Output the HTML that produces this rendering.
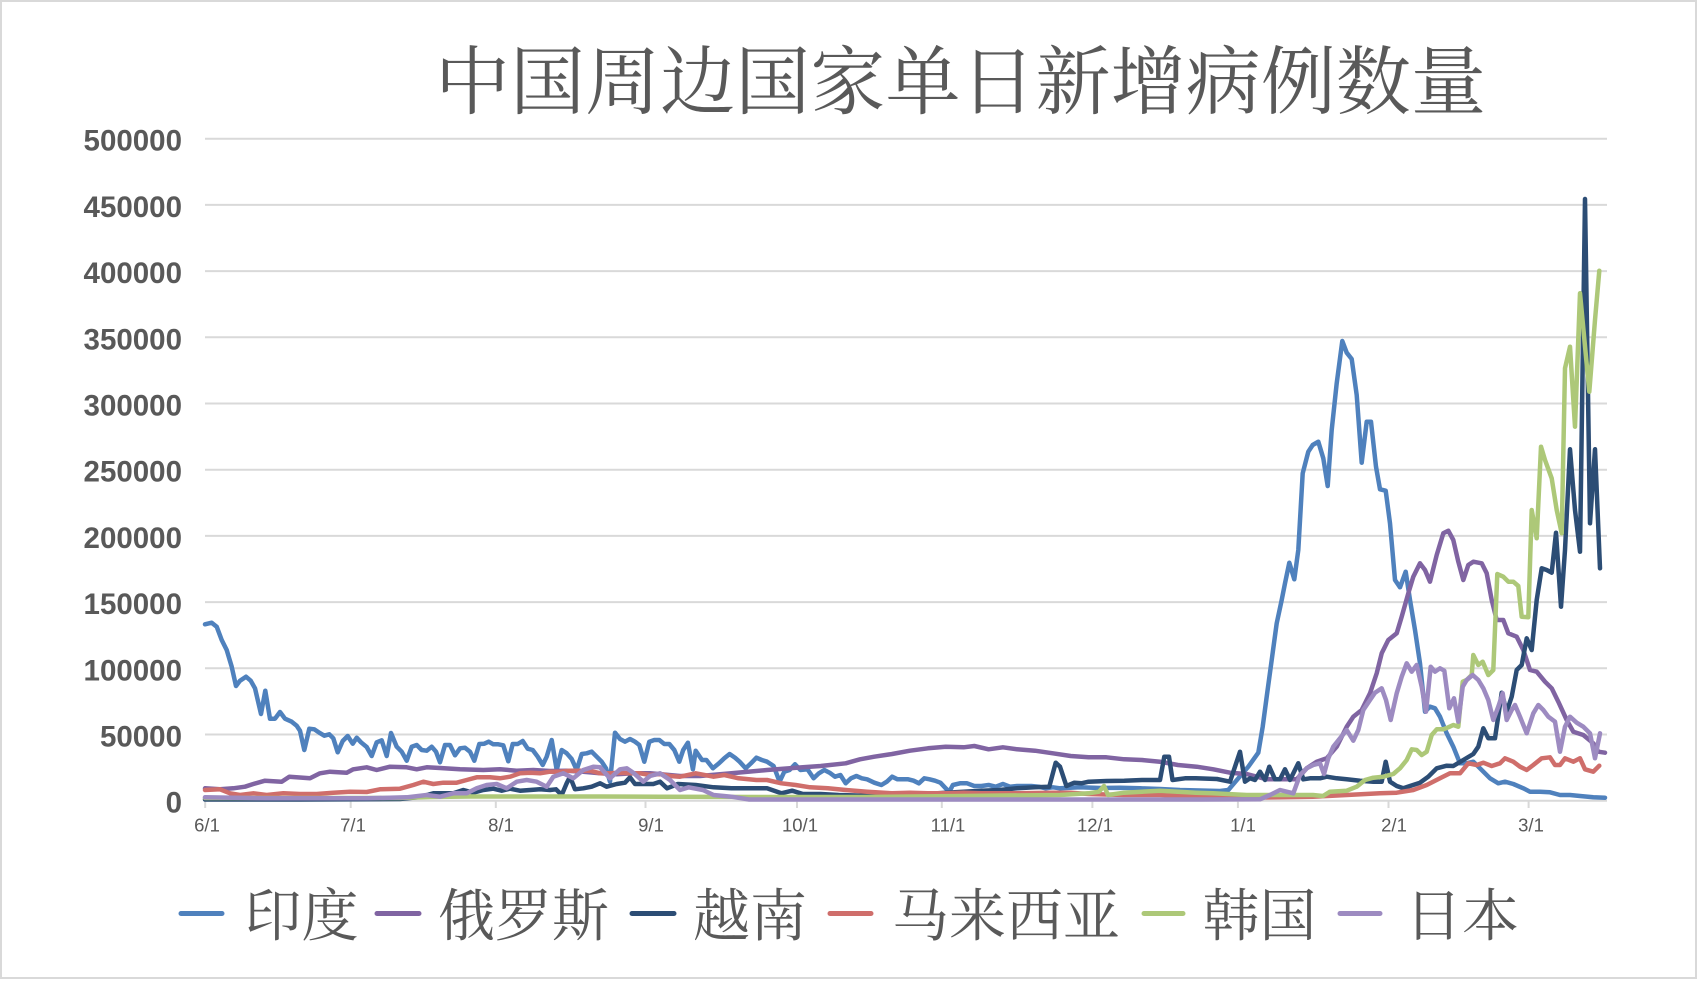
<!DOCTYPE html>
<html>
<head>
<meta charset="utf-8">
<style>
html,body{margin:0;padding:0;background:#fff;}
svg{display:block;}
.yl{font-family:"Liberation Sans",sans-serif;font-weight:bold;font-size:29.5px;fill:#595959;}
.xl{font-family:"Liberation Sans",sans-serif;font-size:18.5px;fill:#595959;}
.cjk{font-family:"Noto Serif CJK SC","Liberation Serif","Noto Sans CJK SC",serif;fill:#595959;}
.s{fill:none;stroke-width:4.5;stroke-linejoin:round;stroke-linecap:round;}
</style>
</head>
<body>
<svg width="1698" height="982" viewBox="0 0 1698 982" xmlns="http://www.w3.org/2000/svg">
<rect x="1" y="1" width="1695" height="977" fill="#fff" stroke="#d9d9d9" stroke-width="2"/>

<text class="cjk" x="435" y="108" font-size="75" textLength="1051" lengthAdjust="spacing">中国周边国家单日新增病例数量</text>

<g stroke="#d9d9d9" stroke-width="2">
<line x1="205" y1="138.7" x2="1607" y2="138.7"/>
<line x1="205" y1="204.9" x2="1607" y2="204.9"/>
<line x1="205" y1="271.1" x2="1607" y2="271.1"/>
<line x1="205" y1="337.3" x2="1607" y2="337.3"/>
<line x1="205" y1="403.5" x2="1607" y2="403.5"/>
<line x1="205" y1="469.7" x2="1607" y2="469.7"/>
<line x1="205" y1="535.9" x2="1607" y2="535.9"/>
<line x1="205" y1="602.1" x2="1607" y2="602.1"/>
<line x1="205" y1="668.3" x2="1607" y2="668.3"/>
<line x1="205" y1="734.5" x2="1607" y2="734.5"/>
<line x1="205" y1="800.7" x2="1607" y2="800.7"/>
<line x1="205.2" y1="800.7" x2="205.2" y2="808"/>
<line x1="350.7" y1="800.7" x2="350.7" y2="808"/>
<line x1="495.8" y1="800.7" x2="495.8" y2="808"/>
<line x1="645.5" y1="800.7" x2="645.5" y2="808"/>
<line x1="797" y1="800.7" x2="797" y2="808"/>
<line x1="941.8" y1="800.7" x2="941.8" y2="808"/>
<line x1="1092.4" y1="800.7" x2="1092.4" y2="808"/>
<line x1="1237.9" y1="800.7" x2="1237.9" y2="808"/>
<line x1="1388.5" y1="800.7" x2="1388.5" y2="808"/>
<line x1="1528.6" y1="800.7" x2="1528.6" y2="808"/>
</g>

<g class="yl" text-anchor="end">
<text x="182" y="150.7">500000</text>
<text x="182" y="216.9">450000</text>
<text x="182" y="283.1">400000</text>
<text x="182" y="349.3">350000</text>
<text x="182" y="415.5">300000</text>
<text x="182" y="481.7">250000</text>
<text x="182" y="547.9">200000</text>
<text x="182" y="614.1">150000</text>
<text x="182" y="680.3">100000</text>
<text x="182" y="746.5">50000</text>
<text x="182" y="812.7">0</text>
</g>

<g class="xl" text-anchor="middle">
<text x="207" y="831.5">6/1</text>
<text x="353" y="831.5">7/1</text>
<text x="501" y="831.5">8/1</text>
<text x="651" y="831.5">9/1</text>
<text x="800" y="831.5">10/1</text>
<text x="948" y="831.5">11/1</text>
<text x="1095" y="831.5">12/1</text>
<text x="1243" y="831.5">1/1</text>
<text x="1394" y="831.5">2/1</text>
<text x="1531" y="831.5">3/1</text>
</g>

<!-- India -->
<polyline class="s" stroke="#4f81bd" points="205,624.3 211.7,622.7 216.7,626.7 221.7,640 226.7,650 231.7,666.7 236,686 240,680.7 246,676.7 250.7,680.7 255,688.3 261,714 265.3,690.7 270,718.7 275,718.7 280,712 285,718.7 291.7,721.7 296.7,725.7 300,730.7 304.3,750 309.3,728.7 314.3,729.3 319.3,732.7 324.3,735.7 329.3,734.3 333.3,738.3 337.7,752.3 342.7,741 347.7,736 352.7,743.7 356.7,737.7 361,742.3 366.7,747 371.7,756 376.7,742.3 381.7,740.3 386.7,756 391,733 396.7,746.7 401.7,751.7 406.7,760.7 411.7,746.7 416.7,745 421.7,750 426.7,750.7 431.7,746.7 436,751.7 440,762.3 445,745 450,745 455,755.3 460,748.3 465,747.7 470,751.7 474.3,760.7 479.3,744 484.3,743.7 488.7,741.7 493.3,744.3 498.3,744.3 503.3,745.3 508.3,761.3 512.7,744 517.7,744 522.7,741 527.7,748.7 532.7,750 537.7,756.7 542.7,765 546.7,756.7 551.7,740 556.7,770 561.7,750 566.7,753.3 571.7,759 576.7,770 581.7,754 586.7,753.3 591.7,751.7 596.7,756.7 601.7,761.7 606,768.3 610,781.7 615,732.7 620,739 625,741.7 630,739 635,741.7 639.3,745 644.3,761.7 649.3,741.7 654.3,740 659.3,740 664.3,744 669.3,744 674.3,750 679.3,761.7 683.2,750 687.9,742.7 692.9,769.3 695.7,750.7 702,760 706.4,760 712.9,768.3 719,763.3 724.3,758.3 729.6,754 735,757.7 739.6,761.7 745.7,768.3 751,763.3 756.4,757.7 761.8,760 767.1,761.7 773.6,766 779.6,781.7 784.3,771.7 789.6,770 795,764.3 800.4,770 807.5,769.3 813.6,778.3 818.9,773.3 824.3,770 829.6,772.7 835,776.7 840.4,775 845.7,783.3 851,778.3 856.4,776 861.8,778.3 867.1,779.3 874.3,782.7 881.4,785 886.8,781.7 892.1,776.7 897.5,779.3 902.9,779.3 908.2,779.3 913.6,780.7 918.9,783.3 924.3,778.3 929.6,779.3 935,780.7 940.4,782.7 945.7,788.3 949.3,791.7 952.9,785 960,783.3 967.1,783.3 974.3,786 981.4,786 988.6,785 995.7,786.7 1002.9,784 1010,786.7 1017,786 1024,786 1031.4,786 1038.6,786.7 1045.7,788.3 1052.9,787.3 1060,788.3 1080,787.3 1100,788 1120,787.7 1140,788.3 1160,789 1180,790 1200,790.5 1220,791 1228.3,790 1238.3,778.3 1248.3,766.7 1258.3,752.7 1262.7,726.7 1266.7,696.7 1271.7,660 1276.7,623.3 1281.7,600 1285,583.3 1289.3,562.7 1294.3,579.3 1298.3,550 1302.7,473.3 1308.3,451.7 1312.7,445 1318.3,441.7 1323.3,458.3 1327.7,486 1331.7,430 1336.7,383.3 1342.3,341 1346.7,352.7 1351.7,359 1356.7,395 1361.7,462.7 1366.7,421.7 1371,421.7 1376,466.7 1380,489.3 1385.7,490.7 1390,523.3 1395,580 1400,587.3 1405.7,571.7 1410,600 1415,630 1420,663.3 1425,711.7 1430,706.7 1435,708.3 1440,716.7 1446.7,733.3 1453.3,746.7 1460,763.3 1466.7,763.3 1473.3,761.7 1480,768.3 1490,778.3 1498.3,783.3 1505,781.7 1513.3,784 1523.3,788.3 1530,791.7 1540,791.7 1550,792.3 1560,795 1570,795 1580,796 1593.3,797.3 1605,797.7"/>

<!-- Russia -->
<polyline class="s" stroke="#8064a2" points="205,788.3 220,789.3 233.3,788.3 245,786.7 253.3,784 265,780.7 281.7,781.7 289.3,776.7 310,778.3 320,773.3 330,771.7 346.7,772.7 353.3,769.3 366.7,767.3 376.7,770 390,766.7 406.7,767.3 416.7,769.3 426.7,767.3 440,768 460,769.3 483.3,770 500,769.3 516.7,770.7 533.3,770 550,771 566.7,770.7 583.3,771.7 600,773.3 616.7,774.3 633.3,773.3 650,773.3 680,776 700,776 731.4,773.3 767,770 802.9,767.3 820.7,766 845.7,763.3 860,759.3 874.3,756.7 892.1,754 910,750.7 927.9,748.3 945.7,746.7 963.6,747.3 974.3,746 988.6,749.3 1002.9,747.3 1017,749.3 1035,750.7 1052.9,753.3 1070.7,756 1088.6,757.3 1106.4,757.3 1124.3,759.3 1142,760 1160,761.7 1177.9,765 1196.7,766.7 1213.3,769.3 1230,772.7 1246.7,774 1266.7,779.3 1280,779.3 1296.7,779.3 1306.7,768.3 1316.7,761.7 1326.7,758.3 1336.7,746.7 1346.7,726.7 1353.3,716.7 1361.7,710 1370,693.3 1376.7,673.3 1381.7,653.3 1388.3,640 1396.7,633.3 1401.7,616.7 1408.3,593.3 1413.3,576.7 1420,563.3 1425,570 1430,581.7 1436.7,555 1443.3,533.3 1448.3,530.7 1453.3,540 1458.3,561.7 1463.3,580 1468.3,565 1473.3,561.7 1481.7,563.3 1486.7,573.3 1491.7,600 1496.7,620 1503.3,620 1508.3,633.3 1516.7,636.7 1523.3,650 1530,670 1536.7,671.7 1545,681.7 1551.7,688.3 1558.3,701.7 1566.7,720 1573.3,731.7 1583.3,735 1593.3,743.3 1598.3,751.7 1605,752.7"/>

<!-- Vietnam -->
<polyline class="s" stroke="#2c4d75" points="205,799.5 300,799.5 400,799 420,797 433.3,793.3 453.3,793.3 463.3,790 473.3,792.7 483.3,790 493.3,788.7 501.7,790.7 510,788.7 520,790.7 530,790 540,789.3 550,790 556,789.3 561.7,795 566.7,783.3 570,776.7 575,789.3 583.3,788.3 591.7,786.7 600,783.3 606.7,786.7 616.7,784 625,782.7 630,777.3 635,784 643.3,784 653.3,784 660,781.7 667.1,788.3 677.9,784 695.7,785 713.6,787.3 731.4,788.3 749.3,788.3 767,788.3 781.4,793.3 792.1,790.7 802.9,794 820.7,794 838.6,795 874.3,796 910,795 945.7,792.7 963.6,791.7 981.4,790.7 999.3,790 1017,788.3 1035,787.3 1049.3,786.7 1055.7,762.7 1060,766.7 1066.4,786 1074.3,782.7 1081.4,783.3 1088.6,781.7 1106.4,781 1124.3,780.7 1142,780 1160,780 1164.3,756.7 1169,756.7 1172.5,780 1185,778.3 1195.7,778.3 1217,779 1230,781.7 1240,751.7 1245,781.7 1250,778.3 1255,780 1260,771.7 1265,780 1269.3,766.7 1275,779.3 1280,779.3 1285,769.3 1290,780 1298.3,763.3 1303.3,779.3 1310,778.3 1320,778.3 1326.7,776.7 1336.7,778.3 1346.7,779.3 1360,780.7 1373.3,781.7 1381.7,781.7 1385.7,761.7 1390,781.7 1396.7,786 1403.3,788.3 1410,786 1420,782.7 1428.3,776.7 1436.7,768.3 1446.7,765.7 1453.3,766 1463.3,760 1473.3,754 1478.3,746.7 1483.3,728.3 1488.3,738.3 1495,738.3 1501.7,692.7 1506.7,711.7 1511.7,696.7 1516.7,670 1521.7,665 1526.7,638.3 1531.7,650 1536.7,600 1541.7,568.3 1546.7,570 1551.7,572.7 1556,532.7 1561,606.7 1565,550 1570,449.3 1575,510 1580,551.7 1585,199 1590,523.3 1595,449.3 1600,568.3"/>

<!-- Malaysia -->
<polyline class="s" stroke="#cf6e6b" points="205,790 220,789.3 230,793.3 240,795 253.3,793.3 266.7,795 283.3,793.3 300,794 316.7,794 333.3,792.7 350,791.7 366.7,792 380,789.3 400,788.7 413.3,785 423.3,781.7 433.3,784 443.3,782.7 456.7,782.7 466.7,780 476.7,777.3 490,777.3 500,778.3 510,776.7 520,773.3 530,772.7 540,773.3 550,771.7 560,771.7 570,770.7 580,770.7 590,770.7 600,773.3 610,773.3 620,772.7 630,773.3 640,773.3 650,775 660,774 670,776 680,776.7 695.7,773.3 713.6,776.7 724.3,775 738.6,778.3 756.4,780 767,780 781.4,783.3 795.7,785 810,787.3 827.9,788.3 845.7,790 867.1,791.7 892,793.3 910,792.7 927.9,793.3 945.7,793.3 963.6,792.7 981.4,793.3 1017,793.3 1052.9,792.7 1070.7,792.7 1088.6,794 1124,795 1160,795 1195.7,796.7 1217,796.7 1246.7,797.7 1313,796.7 1346.7,795 1380,793.3 1396.7,792.7 1413.3,790 1426.7,785 1440,778.3 1450,773.3 1460,773.3 1468.3,763.3 1476.7,765 1483.3,762.7 1491.7,766 1500,763.3 1505,758.3 1513.3,761.7 1520,766.7 1526.7,770 1533.3,765 1541.7,758.3 1550,757.3 1555,765 1560,765 1565,758.3 1573.3,761.7 1580,758.3 1585,769.3 1593.3,771.7 1599.3,765.7"/>

<!-- Korea -->
<polyline class="s" stroke="#adc878" points="205,798 400,798 430,797 470,796.5 500,796.5 600,796.5 660,796.7 760,797 860,797 960,796 1060,795 1088.6,793.3 1099,791.7 1104,786 1108,795 1124,792.7 1142,791.7 1160,790.7 1178,791.7 1196,792.7 1213,793.3 1246.7,795 1280,795 1313,795 1323,796 1330,791.7 1346.7,790.7 1356.7,786.7 1365,780 1373.3,777.7 1383.3,776.7 1393.3,774 1400,768.3 1406.7,760 1411.7,749.3 1416.7,750 1421.7,755 1426.7,751.7 1431.7,735 1436.7,729.3 1443.3,729.3 1448.3,727.3 1453.3,725 1458.3,726.7 1462.7,681.7 1466.7,680 1471.7,675 1473.3,655 1478.3,665 1482.7,661.7 1488.3,675 1493.3,670 1497.3,574 1503.3,576.7 1508.3,581.7 1513.3,581.7 1518.3,586 1521.7,616.7 1528.3,617.3 1531.7,510 1536.7,538.3 1541,446.7 1545,460 1551.7,478.3 1556.7,510 1561.7,533.3 1565,368.3 1570,346.7 1575,426.7 1580,293.3 1589.3,391.7 1595,320 1599.3,270.7"/>

<!-- Japan -->
<polyline class="s" stroke="#9d8bc1" points="205,797.3 266.7,798.3 366.7,798.3 406.7,797.3 426.7,795 440,796.7 453.3,793.3 466.7,793.3 476.7,788.3 486.7,785 496.7,784 506.7,788.3 516.7,781.7 526.7,780 536.7,781.7 546.7,786.7 553.3,776.7 563.3,773.3 573.3,778.3 583.3,770 593.3,766.7 600,767.3 610,778.3 620,769.3 626.7,768.3 633.3,772.7 643.3,781.7 650,776 660,773.3 670,780 680,790 688.6,787.3 702.9,790 713.6,795 731.4,796.7 749.3,799.5 800,799.5 1000,799.5 1200,799.5 1260,799.3 1270,795 1280,790 1286.7,791.7 1293.3,793.3 1300,775 1306.7,768.3 1313.3,765 1320,763.3 1324,774 1328.3,758.3 1333.3,746.7 1340,738.3 1346.7,730 1353.3,740.7 1358.3,730 1363.3,710 1370,700 1375,692.7 1381.7,688.3 1386,700 1390.7,720 1396.7,693.3 1401.7,676.7 1406.7,663.3 1411.7,671.7 1416.7,665 1421.7,686.7 1426,711.7 1430.7,666.7 1435,671.7 1440,668.3 1444.3,670.7 1449.3,708.3 1454,698.3 1458.3,721.7 1462.7,686.7 1466.7,680 1472.7,675 1478.3,680 1483.3,688.3 1488.3,700 1493.3,720 1498.3,706.7 1502.7,693.3 1506.7,720 1511.7,710 1515,705 1520,716.7 1526.7,733.3 1533.3,713.3 1538.3,705 1543.3,710 1548.3,716.7 1555,721.7 1560,751.7 1565,726.7 1570,716.7 1576.7,722.7 1583.3,726.7 1590,733.3 1595,758.3 1600,733.3"/>

<!-- Legend -->
<g stroke-width="5" stroke-linecap="round">
<line x1="181" y1="913.5" x2="222" y2="913.5" stroke="#4f81bd"/>
<line x1="377" y1="913.5" x2="419" y2="913.5" stroke="#8064a2"/>
<line x1="632" y1="913.5" x2="674" y2="913.5" stroke="#2c4d75"/>
<line x1="830" y1="913.5" x2="871" y2="913.5" stroke="#cf6e6b"/>
<line x1="1144" y1="913.5" x2="1183" y2="913.5" stroke="#adc878"/>
<line x1="1340" y1="913.5" x2="1380" y2="913.5" stroke="#9d8bc1"/>
</g>
<g class="cjk" font-size="57">
<text x="244.5" y="935.5">印度</text>
<text x="438" y="935.5">俄罗斯</text>
<text x="693" y="935.5">越南</text>
<text x="892" y="935.5">马来西亚</text>
<text x="1202.5" y="935.5">韩国</text>
<text x="1405" y="935.5">日本</text>
</g>
</svg>
</body>
</html>
